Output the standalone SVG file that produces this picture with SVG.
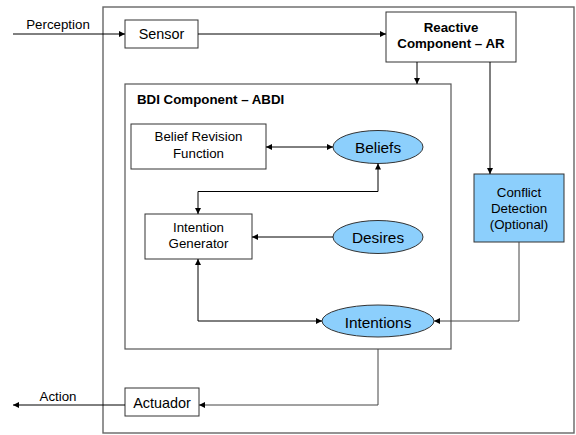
<svg xmlns="http://www.w3.org/2000/svg" width="576" height="435" viewBox="0 0 576 435">
<defs>
<marker id="ah" viewBox="0 0 10 10" refX="10" refY="5" markerWidth="9" markerHeight="6" markerUnits="userSpaceOnUse" orient="auto-start-reverse">
<path d="M0,0 L10,5 L0,10 z" fill="#000"/>
</marker>
<style>
text{font-family:"Liberation Sans",Arial,sans-serif;fill:#000;text-anchor:middle}
.box{fill:#fff;stroke:#333;stroke-width:1}
.outer{fill:#fff;stroke:#666;stroke-width:1.4}
.grp{fill:none;stroke:#555;stroke-width:1.2}
.blue{fill:#8ccffc;stroke:#333;stroke-width:1}
.t13{font-size:13.3px}
.t14{font-size:14.4px}
.t15{font-size:15.4px}
.b{font-weight:bold}
.c{fill:none;stroke:#000;stroke-width:1}
.cg{fill:none;stroke:#444;stroke-width:1}
</style>
</defs>
<rect width="576" height="435" fill="#fff"/>
<g id="agent"><rect class="outer" x="103" y="7" width="471" height="426"/></g>
<g id="bdi"><rect class="grp" x="125" y="84" width="326" height="265"/>
<text class="t13 b" x="137" y="104" style="text-anchor:start">BDI Component – ABDI</text></g>
<g id="sensor"><rect class="box" x="125" y="20" width="73" height="28"/><text class="t14" x="161.5" y="39">Sensor</text></g>
<g id="reactive"><rect class="box" x="386" y="12" width="130" height="50"/>
<text class="t13 b" x="451" y="32">Reactive</text><text class="t13 b" x="451" y="47.5">Component – AR</text></g>
<g id="conflict"><rect class="blue" x="474" y="174" width="90" height="68"/>
<text class="t13" x="519" y="196.5">Conflict</text><text class="t13" x="519" y="212.5">Detection</text><text class="t13" x="519" y="229">(Optional)</text></g>
<g id="brf"><rect class="box" x="131" y="124" width="135" height="45"/>
<text class="t13" x="198.5" y="141">Belief Revision</text><text class="t13" x="198.5" y="158">Function</text></g>
<g id="beliefs"><ellipse class="blue" cx="378" cy="147" rx="45" ry="16.5"/><text class="t15" x="378" y="153">Beliefs</text></g>
<g id="ig"><rect class="box" x="145" y="214" width="107" height="45"/>
<text class="t13" x="198.5" y="231.5">Intention</text><text class="t13" x="198.5" y="248">Generator</text></g>
<g id="desires"><ellipse class="blue" cx="378" cy="237" rx="45" ry="16.5"/><text class="t15" x="378" y="243">Desires</text></g>
<g id="intentions"><ellipse class="blue" cx="378" cy="321" rx="56" ry="16"/><text class="t15" x="378" y="327.5">Intentions</text></g>
<g id="actuador"><rect class="box" x="125" y="388" width="74" height="28"/><text class="t14" x="162" y="408">Actuador</text></g>
<g id="connectors">
<path class="c" d="M13,34 H125" marker-end="url(#ah)"/>
<text class="t13" x="58" y="29">Perception</text>
<path class="c" d="M198,34 H386" marker-end="url(#ah)"/>
<path class="c" d="M417,62 V84" marker-end="url(#ah)"/>
<path class="c" d="M490,62 V174" marker-end="url(#ah)"/>
<path class="c" d="M266,147 H333" marker-start="url(#ah)" marker-end="url(#ah)"/>
<path class="c" d="M378,163.5 V191.5 H198 V214" marker-start="url(#ah)" marker-end="url(#ah)"/>
<path class="c" d="M333,237 H252" marker-end="url(#ah)"/>
<path class="c" d="M198,259 V321 H322" marker-start="url(#ah)" marker-end="url(#ah)"/>
<path class="cg" d="M519,242 V321 H434" marker-end="url(#ah)"/>
<path class="cg" d="M378,349 V405 H199" marker-end="url(#ah)"/>
<path class="c" d="M125,405 H13" marker-end="url(#ah)"/>
<text class="t13" x="58" y="400.5">Action</text>
</g>
</svg>
